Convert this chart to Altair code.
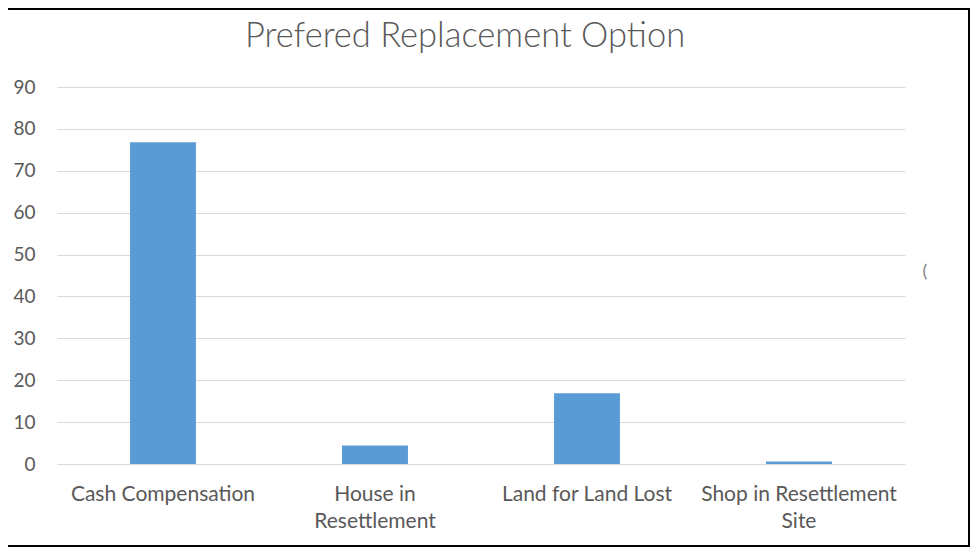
import altair as alt
import pandas as pd

categories = ["Cash Compensation", "House in Resettlement", "Land for Land Lost", "Shop in Resettlement Site"]
values = [76.8, 4.4, 16.9, 0.6]
title_text = "Prefered Replacement Option"

df = pd.DataFrame({"option": categories, "value": values})

GRAY = "#595959"
FONT = "Lato"

label_expr = (
    "datum.label == 'House in Resettlement' ? ['House in', 'Resettlement'] : "
    "datum.label == 'Shop in Resettlement Site' ? ['Shop in Resettlement', 'Site'] : datum.label"
)

bars = alt.Chart(df).mark_bar(color="#5b9bd5").encode(
    x=alt.X(
        "option:N",
        sort=categories,
        scale=alt.Scale(paddingInner=0.689, paddingOuter=0.3445),
        axis=alt.Axis(
            title=None, labelAngle=0, domain=False, ticks=False,
            labelExpr=label_expr, labelFont=FONT, labelFontSize=21,
            labelColor=GRAY, labelPadding=19, labelLineHeight=27,
            labelBaseline="top", labelLimit=400,
        ),
    ),
    y=alt.Y(
        "value:Q",
        scale=alt.Scale(domain=[0, 90]),
        axis=alt.Axis(
            title=None, values=list(range(0, 91, 10)), domain=False, ticks=False,
            labelFont=FONT, labelFontSize=19, labelColor=GRAY, labelPadding=22,
            gridColor="#d9d9d9", gridWidth=1,
        ),
    ),
)

one = alt.Chart(pd.DataFrame({"a": [0]}))
title_mark = one.mark_text(
    font=FONT, fontSize=34.5, fontWeight=300, color=GRAY, baseline="alphabetic", align="center"
).encode(x=alt.value(408), y=alt.value(-40), text=alt.value(title_text))
top_line = one.mark_rule(color="black", strokeWidth=2).encode(
    x=alt.value(-49), x2=alt.value(913), y=alt.value(-78)
)
bottom_line = one.mark_rule(color="black", strokeWidth=2).encode(
    x=alt.value(-49), x2=alt.value(913), y=alt.value(459)
)
right_line = one.mark_rule(color="black", strokeWidth=2).encode(
    x=alt.value(912), y=alt.value(-79), y2=alt.value(460)
)
artifact = one.mark_text(font=FONT, fontSize=18, color="#7f7f7f").encode(
    x=alt.value(868), y=alt.value(185), text=alt.value("(")
)

chart = alt.layer(bars, title_mark, top_line, bottom_line, right_line, artifact).properties(
    width=848,
    height=377,
    padding={"left": 49, "top": 79, "right": 65, "bottom": 84},
    autosize=alt.AutoSizeParams(type="none"),
    background="white",
).configure_view(strokeWidth=0)

chart.save("out.html", embed_options={"renderer": "svg", "actions": False})
